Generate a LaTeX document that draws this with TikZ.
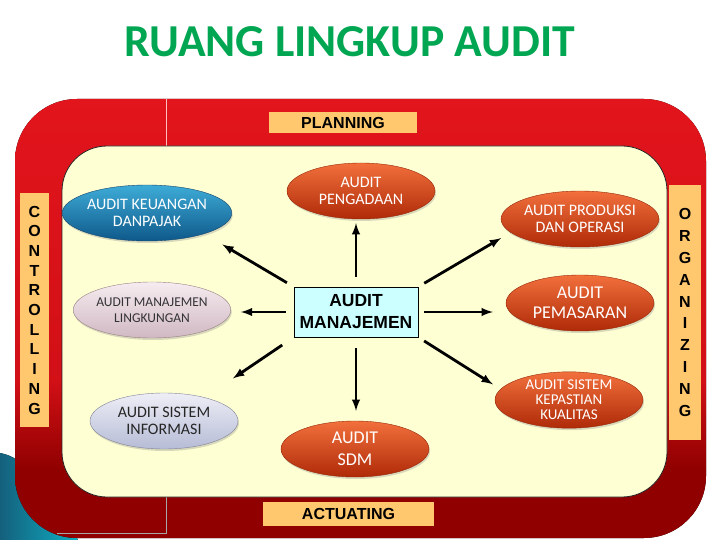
\documentclass[tikz,border=0pt]{standalone}
\usepackage{fontspec}
\setmainfont{Carlito}
\newfontfamily\arialfont{Liberation Sans}
\usepackage{xcolor}
\usepackage{tikz}
\usetikzlibrary{shapes,shadows,positioning,arrows,fit}
\definecolor{framered}{RGB}{226,20,28}
\definecolor{framedark}{RGB}{145,0,0}
\definecolor{cream}{RGB}{255,255,212}
\definecolor{labelorange}{RGB}{255,200,110}
\definecolor{titlegreen}{RGB}{0,166,81}
\definecolor{boxcyan}{RGB}{204,255,255}
\definecolor{swoosh}{RGB}{25,120,155}
\pgfdeclareverticalshading{frameshade}{100bp}{color(0bp)=(framedark); color(33bp)=(framedark); color(43bp)=(framered!80!framedark); color(75bp)=(framered); color(100bp)=(framered)}
\tikzset{
	label/.style = {
		fill=labelorange, inner sep=0pt, align=center, font=\arialfont\bfseries\fontsize{16}{18}\selectfont
	}
}
\tikzset{
	ellips/.style = {
		ellipse, minimum width=148pt, minimum height=56pt, inner sep=0pt, align=center,
		font=\fontsize{16}{17}\selectfont, drop shadow={opacity=0.3, shadow xshift=1pt, shadow yshift=-2pt}
	}
}
\tikzset{
	oranye/.style = {
		ellips, draw={rgb,255:red,150;green,40;blue,10}, text=white,
		top color={rgb,255:red,242;green,112;blue,60}, bottom color={rgb,255:red,175;green,42;blue,8}
	}
}
\tikzset{
	biru/.style = {
		ellips, draw={rgb,255:red,20;green,70;blue,110}, text=white,
		top color={rgb,255:red,62;green,172;blue,215}, bottom color={rgb,255:red,14;green,88;blue,138}
	}
}
\tikzset{
	merahmuda/.style = {
		ellips, draw={rgb,255:red,150;green,128;blue,130}, text=black!80,
		top color={rgb,255:red,246;green,236;blue,240}, bottom color={rgb,255:red,208;green,184;blue,194}
	}
}
\tikzset{
	abu/.style = {
		ellips, draw={rgb,255:red,128;green,130;blue,150}, text=black!85,
		top color={rgb,255:red,238;green,238;blue,246}, bottom color={rgb,255:red,182;green,188;blue,214}
	}
}
\tikzset{
	panah/.style = {
		-latex, line width=2.8pt
	}
}

\begin{document}
\begin{tikzpicture}[x=1pt, y=-1pt]
	\useasboundingbox (0,0) rectangle (720,540);
	\fill[white] (0,0) rectangle (720,540);
	% swoosh and frame
	\fill[left color=swoosh!80!black, right color=swoosh!60!cyan] (0,453) .. controls (30,458) and (55,500) .. (78,540) -- (0,540) -- cycle;
	\fill[shading=frameshade, rounded corners=62pt] (15,99) rectangle (706,538);
	\draw[red!25!white, line width=0.6pt] (166,99) -- (166,146);
	\draw[black!35, line width=0.8pt] (166,497) -- (166,533) -- (57,533);
	\filldraw[fill=cream, draw=black!85, line width=0.8pt, rounded corners=45pt] (62,146) rectangle (667,497);

	\node[label, minimum width=148pt, minimum height=21pt] (Planning) at (343,122.5) {PLANNING};
	\node[label, minimum width=171pt, minimum height=24pt] (Actuating) at (348.5,514) {ACTUATING};
	\node[label, minimum width=29pt, minimum height=233pt, font=\arialfont\bfseries\fontsize{16}{19.7}\selectfont] (Controlling) at (34.5,310) {C\\O\\N\\T\\R\\O\\L\\L\\I\\N\\G};
	\node[label, minimum width=32pt, minimum height=255pt, font=\arialfont\bfseries\fontsize{16}{21.9}\selectfont] (Organizing) at (685,312.5) {O\\R\\G\\A\\N\\I\\Z\\I\\N\\G};

	\node[anchor=base, text=titlegreen, font=\bfseries\fontsize{45.7}{48}\selectfont] (Judul) at (350,57) {RUANG LINGKUP AUDIT};

	\node[draw, fill=boxcyan, minimum width=124pt, minimum height=50pt, inner sep=0pt, align=center,
		font=\arialfont\bfseries\fontsize{17.5}{22}\selectfont] (Manajemen) at (356,312) {AUDIT\\MANAJEMEN};

	\node[biru] (Keuangan) at (147,213) {AUDIT KEUANGAN\\DANPAJAK};
	\node[oranye] (Pengadaan) at (361,191) {AUDIT\\PENGADAAN};
	\node[oranye] (Produksi) at (580,219) {AUDIT PRODUKSI\\DAN OPERASI};
	\node[merahmuda, font=\fontsize{13.5}{16}\selectfont] (Lingkungan) at (152,310) {AUDIT MANAJEMEN\\LINGKUNGAN};
	\node[oranye, font=\fontsize{18}{20}\selectfont] (Pemasaran) at (580,303) {AUDIT\\PEMASARAN};
	\node[abu] (Informasi) at (164,421) {AUDIT SISTEM\\INFORMASI};
	\node[oranye, font=\fontsize{15}{15}\selectfont] (Kepastian) at (569,400) {AUDIT SISTEM\\KEPASTIAN\\KUALITAS};
	\node[oranye, font=\fontsize{18}{22}\selectfont] (SDM) at (355,449) {AUDIT\\SDM};

	\draw[panah, shorten <=8pt, shorten >=21pt] (Manajemen.north west) -- (Keuangan.340);
	\draw[panah, shorten <=10pt, shorten >=4pt] (Manajemen.north) -- (Manajemen.north |- Pengadaan.south);
	\draw[panah, shorten <=7pt, shorten >=11pt] (Manajemen.north east) -- (Produksi.191);
	\draw[panah, shorten <=8pt, shorten >=10pt] (Manajemen.west) -- (Manajemen.west -| Lingkungan.east);
	\draw[panah, shorten <=6pt, shorten >=13pt] (Manajemen.east) -- (Manajemen.east -| Pemasaran.west);
	\draw[panah, shorten <=14pt, shorten >=34pt] (Manajemen.south west) -- (Informasi.30);
	\draw[panah, shorten <=7pt, shorten >=9pt] (Manajemen.south east) -- (Kepastian.171);
	\draw[panah, shorten <=11pt, shorten >=10pt] (Manajemen.south) -- (Manajemen.south |- SDM.north);
\end{tikzpicture}
\end{document}
